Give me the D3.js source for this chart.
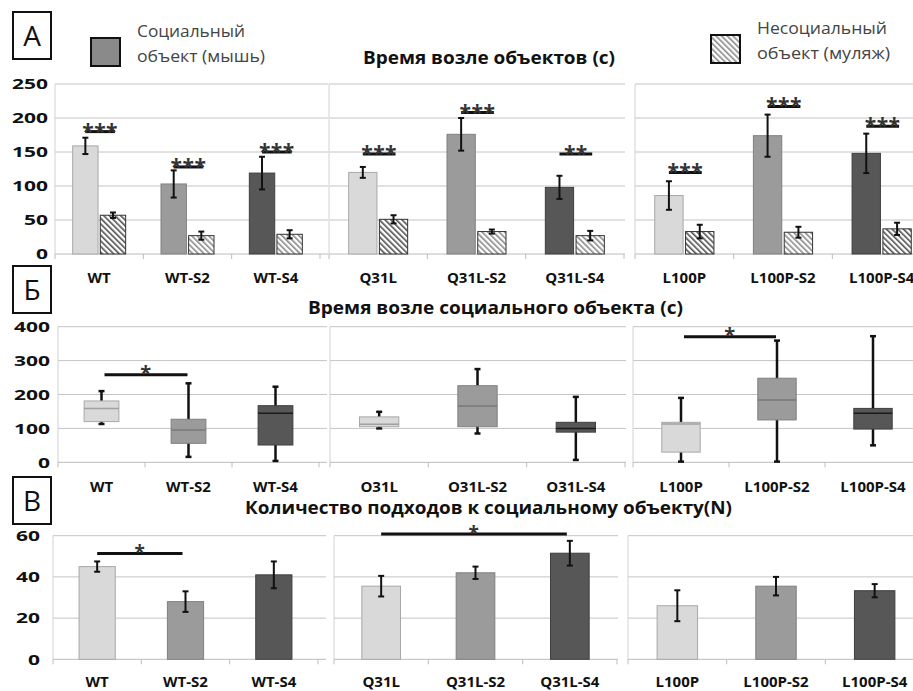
<!DOCTYPE html>
<html>
<head>
<meta charset="utf-8">
<script src="https://cdn.jsdelivr.net/npm/d3@7"></script>
<style>
body { margin: 0; background: #fff; }
text { font-family: "Open Sans", "Liberation Sans", sans-serif; }
</style>
</head>
<body>
<svg id="chart" width="913" height="691"></svg>
<script>
// categories
let groups = [
    ['WT', 'WT-S2', 'WT-S4'],
    ['Q31L', 'Q31L-S2', 'Q31L-S4'],
    ['L100P', 'L100P-S2', 'L100P-S4']
];
let labelsB = [
    ['WT', 'WT-S2', 'WT-S4'],
    ['O31L', 'O31L-S2', 'O31L-S4'],
    ['L100P', 'L100P-S2', 'L100P-S4']
];

// А: time near objects (s)
let socialMean = [159, 103, 119, 120, 176, 98, 86, 174, 148];
let socialErr = [12, 20, 24, 8, 24, 17, 21, 31, 29];
let dummyMean = [57, 27, 29, 51, 33, 27, 33, 32, 37];
let dummyErr = [4, 6, 6, 6, 3, 7, 10, 8, 9];
let sigA = [180, 128, 150, 147, 208, 147, 120, 217, 188];
let starsA = ['***', '***', '***', '***', '***', '**', '***', '***', '***'];
let ticksA = [0, 50, 100, 150, 200, 250];

// Б: time near social object, boxes [min, q1, median, q3, max]
let boxes = [
    [113, 120, 159, 181, 210],
    [16, 56, 95, 127, 233],
    [4, 51, 145, 167, 223],
    [100, 105, 112, 134, 149],
    [85, 105, 166, 226, 275],
    [7, 89, 100, 118, 193],
    [2, 30, 113, 118, 190],
    [2, 125, 184, 248, 359],
    [50, 98, 145, 159, 372]
];
let sigB = [['WT', 'WT-S2', 258], ['L100P', 'L100P-S2', 370]];
let ticksB = [0, 100, 200, 300, 400];

// В: approaches to social object (N)
let approachMean = [45, 28, 41, 35.5, 42, 51.5, 26, 35.5, 33.3];
let approachErr = [2.5, 5, 6.5, 5, 3, 6, 7.5, 4.5, 3.2];
let sigV = [['WT', 'WT-S2', 51.4], ['Q31L', 'Q31L-S4', 60.8]];
let ticksV = [0, 20, 40, 60];

// styles
let fills = ['#d9d9d9', '#9b9b9b', '#575757'];
let strokes = ['#a8a8a8', '#808080', '#3f3f3f'];
let medians = ['#a0a0a0', '#787878', '#1a1a1a'];
let hatchOf = ['hatchDark', 'hatchLight', 'hatchLight', 'hatchDark', 'hatchLight', 'hatchLight', 'hatchDark', 'hatchLight', 'hatchDark'];

const svg = d3.select('#chart');
const defs = svg.append('defs');

function hatch(id, color) {
    let p = defs.append('pattern')
        .attr('id', id)
        .attr('patternUnits', 'userSpaceOnUse')
        .attr('width', 4)
        .attr('height', 4)
        .attr('patternTransform', 'rotate(-45)');
    p.append('rect').attr('width', 4).attr('height', 4).attr('fill', '#fff');
    p.append('rect').attr('width', 1.6).attr('height', 4).attr('fill', color);
}
hatch('hatchDark', '#505050');
hatch('hatchLight', '#8a8a8a');

let rows = [
    { top: 84, bottom: 254, max: 250, ticks: ticksA, pi: 0.4, pad: 7, labelY: 283, labels: groups,
      xr: [[55, 320], [329, 624], [635, 931]] },
    { top: 326.7, bottom: 462.3, max: 400, ticks: ticksB, pi: 0.6, pad: 8, labelY: 492, labels: labelsB,
      xr: [[58, 319], [330, 625], [633, 921]] },
    { top: 535.7, bottom: 659.3, max: 60, ticks: ticksV, pi: 0.59, pad: 13, labelY: 687, labels: groups,
      xr: [[53, 318], [334, 617], [628, 924]] }
];
let gridExt = [8, 1, 0];

// one small chart: grid, axes, labels
function frame(row, k) {
    let y = d3.scaleLinear().domain([0, row.max]).range([row.bottom, row.top]);
    let x = d3.scaleBand()
        .domain(groups[k])
        .range(row.xr[k])
        .paddingInner(row.pi)
        .paddingOuter(row.pi / 2);
    let r = row.xr[k];
    let g = svg.append('g');

    g.selectAll('.grid')
        .data(row.ticks.filter(t => t > 0))
        .enter()
        .append('line')
        .attr('x1', r[0])
        .attr('x2', r[1] + gridExt[k])
        .attr('y1', d => y(d))
        .attr('y2', d => y(d))
        .attr('stroke', '#c4c4c4')
        .attr('stroke-width', 1);
    // left axis and baseline
    g.append('line')
        .attr('x1', r[0]).attr('x2', r[0])
        .attr('y1', y(0)).attr('y2', y(row.max))
        .attr('stroke', '#d2d2d2');
    g.append('line')
        .attr('x1', r[0]).attr('x2', r[1] + gridExt[k])
        .attr('y1', y(0)).attr('y2', y(0))
        .attr('stroke', '#bcbcbc');
    g.selectAll('.tk')
        .data(d3.range(4))
        .enter()
        .append('line')
        .attr('x1', m => r[0] + m * x.step())
        .attr('x2', m => r[0] + m * x.step())
        .attr('y1', y(0))
        .attr('y2', y(0) + 5)
        .attr('stroke', '#bcbcbc');

    if (k === 0) {
        let ax = g.append('g')
            .attr('transform', 'translate(' + r[0] + ',0)')
            .call(d3.axisLeft(y).tickValues(row.ticks).tickSize(0).tickPadding(row.pad));
        ax.select('.domain').remove();
        ax.selectAll('text')
            .attr('font-family', '"Open Sans", sans-serif')
            .attr('font-size', 15)
            .attr('font-weight', 'bold')
            .attr('fill', '#111')
            .attr('textLength', d => String(d).length * 12)
            .attr('lengthAdjust', 'spacingAndGlyphs');
    }

    g.selectAll('.lbl')
        .data(groups[k])
        .enter()
        .append('text')
        .attr('x', d => x(d) + x.bandwidth() / 2)
        .attr('y', row.labelY)
        .attr('text-anchor', 'middle')
        .attr('font-size', 15)
        .attr('font-weight', 'bold')
        .attr('fill', '#111')
        .text((d, j) => row.labels[k][j]);

    return { x: x, y: y, g: g };
}

function errBar(g, cx, y, m, e, cap) {
    g.append('line')
        .attr('x1', cx).attr('x2', cx)
        .attr('y1', y(m + e)).attr('y2', y(m - e))
        .attr('stroke', '#111').attr('stroke-width', 2);
    [m + e, m - e].forEach(v => {
        g.append('line')
            .attr('x1', cx - cap).attr('x2', cx + cap)
            .attr('y1', y(v)).attr('y2', y(v))
            .attr('stroke', '#111').attr('stroke-width', 2);
    });
}

function sigMark(g, x1, x2, yy, stars, dy, size) {
    g.append('line')
        .attr('x1', x1).attr('x2', x2)
        .attr('y1', yy).attr('y2', yy)
        .attr('stroke', '#111')
        .attr('stroke-width', 3);
    g.append('text')
        .attr('x', (x1 + x2) / 2)
        .attr('y', yy + dy)
        .attr('text-anchor', 'middle')
        .attr('font-size', size)
        .attr('font-weight', 'bold')
        .attr('fill', '#333')
        .attr('letter-spacing', 0.5)
        .text(stars);
}

// panel А
groups.forEach((cats, k) => {
    let f = frame(rows[0], k);
    let sub = d3.scaleBand().domain(['s', 'd']).range([0, f.x.bandwidth()]).paddingInner(0.08);
    let bw = sub.bandwidth();
    let data = cats.map((c, j) => {
        let i = k * 3 + j;
        return { c: c, j: j, i: i, s: socialMean[i], se: socialErr[i], d: dummyMean[i], de: dummyErr[i] };
    });
    f.g.selectAll('.soc')
        .data(data)
        .enter()
        .append('rect')
        .attr('x', d => f.x(d.c) + sub('s'))
        .attr('y', d => f.y(d.s))
        .attr('width', bw)
        .attr('height', d => f.y(0) - f.y(d.s))
        .attr('fill', d => fills[d.j])
        .attr('stroke', d => strokes[d.j]);
    f.g.selectAll('.dum')
        .data(data)
        .enter()
        .append('rect')
        .attr('x', d => f.x(d.c) + sub('d'))
        .attr('y', d => f.y(d.d))
        .attr('width', bw)
        .attr('height', d => f.y(0) - f.y(d.d))
        .attr('fill', d => 'url(#' + hatchOf[d.i] + ')')
        .attr('stroke', '#333');
    data.forEach(d => {
        let cs = f.x(d.c) + sub('s') + bw / 2;
        let cd = f.x(d.c) + sub('d') + bw / 2;
        errBar(f.g, cs, f.y, d.s, d.se, 3);
        errBar(f.g, cd, f.y, d.d, d.de, 3);
        sigMark(f.g, cs, cd + 2, f.y(sigA[d.i]), starsA[d.i], 7, 21);
    });
});

// panel Б
groups.forEach((cats, k) => {
    let f = frame(rows[1], k);
    let bw = f.x.bandwidth();
    let data = cats.map((c, j) => ({ c: c, j: j, b: boxes[k * 3 + j] }));
    data.forEach(d => {
        let cx = f.x(d.c) + bw / 2;
        f.g.append('line')
            .attr('x1', cx).attr('x2', cx)
            .attr('y1', f.y(d.b[4])).attr('y2', f.y(d.b[0]))
            .attr('stroke', '#111').attr('stroke-width', 2.5);
        [d.b[0], d.b[4]].forEach(v => {
            f.g.append('line')
                .attr('x1', cx - 3).attr('x2', cx + 3)
                .attr('y1', f.y(v)).attr('y2', f.y(v))
                .attr('stroke', '#111').attr('stroke-width', 2.5);
        });
    });
    f.g.selectAll('.box')
        .data(data)
        .enter()
        .append('rect')
        .attr('x', d => f.x(d.c))
        .attr('y', d => f.y(d.b[3]))
        .attr('width', bw)
        .attr('height', d => f.y(d.b[1]) - f.y(d.b[3]))
        .attr('fill', d => fills[d.j])
        .attr('stroke', d => strokes[d.j]);
    f.g.selectAll('.med')
        .data(data)
        .enter()
        .append('line')
        .attr('x1', d => f.x(d.c))
        .attr('x2', d => f.x(d.c) + bw)
        .attr('y1', d => f.y(d.b[2]))
        .attr('y2', d => f.y(d.b[2]))
        .attr('stroke', d => medians[d.j])
        .attr('stroke-width', 1.5);
    sigB.filter(s => cats.includes(s[0])).forEach(s => {
        sigMark(f.g, f.x(s[0]) + bw / 2 + 3, f.x(s[1]) + bw / 2 - 1, f.y(s[2]), '*', 5.5, 20);
    });
});

// panel В
groups.forEach((cats, k) => {
    let f = frame(rows[2], k);
    let bw = f.x.bandwidth();
    let data = cats.map((c, j) => ({ c: c, j: j, m: approachMean[k * 3 + j], e: approachErr[k * 3 + j] }));
    f.g.selectAll('.bar')
        .data(data)
        .enter()
        .append('rect')
        .attr('x', d => f.x(d.c))
        .attr('y', d => f.y(d.m))
        .attr('width', bw)
        .attr('height', d => f.y(0) - f.y(d.m))
        .attr('fill', d => fills[d.j])
        .attr('stroke', d => strokes[d.j]);
    data.forEach(d => errBar(f.g, f.x(d.c) + bw / 2, f.y, d.m, d.e, 3));
    sigV.filter(s => cats.includes(s[0])).forEach(s => {
        sigMark(f.g, f.x(s[0]) + bw / 2, f.x(s[1]) + bw / 2 - 3, f.y(s[2]), '*', 6, 19);
    });
});

// titles
let titles = [
    ['Время возле объектов (с)', 363, 64, 252],
    ['Время возле социального объекта (с)', 308, 314, 375],
    ['Количество подходов к социальному объекту(N)', 245, 514, 487]
];
svg.selectAll('.title')
    .data(titles)
    .enter()
    .append('text')
    .attr('x', d => d[1])
    .attr('y', d => d[2])
    .attr('font-size', 17)
    .attr('font-weight', 'bold')
    .attr('fill', '#111')
    .attr('textLength', d => d[3])
    .attr('lengthAdjust', 'spacingAndGlyphs')
    .text(d => d[0]);

// panel letters
[['А', 12], ['Б', 266], ['В', 477]].forEach(p => {
    svg.append('rect')
        .attr('x', 13).attr('y', p[1])
        .attr('width', 38).attr('height', 47)
        .attr('fill', '#fff')
        .attr('stroke', '#111')
        .attr('stroke-width', 2);
    svg.append('text')
        .attr('x', 32).attr('y', p[1] + 34)
        .attr('text-anchor', 'middle')
        .attr('font-size', 28)
        .attr('fill', '#111')
        .text(p[0]);
});

// legend
let legend = [
    { x: 91, y: 38, fill: '#8a8a8a', lines: ['Социальный', 'объект (мышь)'], w: [108, 128], tx: 137, ty: [37, 62] },
    { x: 711, y: 35, fill: 'url(#hatchLight)', lines: ['Несоциальный', 'объект (муляж)'], w: [130, 133], tx: 757, ty: [34, 59] }
];
legend.forEach(l => {
    svg.append('rect')
        .attr('x', l.x).attr('y', l.y)
        .attr('width', 29).attr('height', 28)
        .attr('fill', l.fill)
        .attr('stroke', '#111')
        .attr('stroke-width', 2);
    l.lines.forEach((t, n) => {
        svg.append('text')
            .attr('x', l.tx).attr('y', l.ty[n])
            .attr('font-size', 16)
            .attr('fill', '#444')
            .attr('textLength', l.w[n])
            .attr('lengthAdjust', 'spacingAndGlyphs')
            .text(t);
    });
});
</script>
</body>
</html>
